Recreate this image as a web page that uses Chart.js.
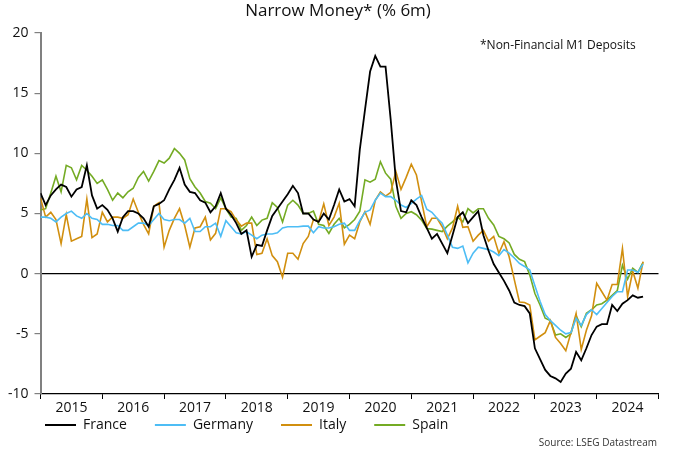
<!DOCTYPE html>
<html lang="en">
<head>
  <meta charset="UTF-8" />
  <title>Narrow Money* (% 6m)</title>
  <style>
    body { margin: 0; background: #fff; }
    #wrap { width: 680px; height: 453px; }
  </style>
</head>
<body>
  <div id="wrap"><canvas id="chart" width="680" height="453"></canvas></div>

  <script src="https://cdn.jsdelivr.net/npm/chart.js"></script>
  <script>
    // year labels on the x axis
    const years = ['2015', '2016', '2017', '2018', '2019', '2020', '2021', '2022', '2023', '2024'];

    // monthly observations, Jan 2015 - Oct 2024
    const months = [];
    for (let y = 2015; y <= 2024; y++) {
      for (let m = 1; m <= 12; m++) {
        if (months.length < 118) months.push(y + '-' + String(m).padStart(2, '0'));
      }
    }

    const france = [
      6.7, 5.7, 6.5, 7.0, 7.4, 7.2, 6.4, 7.0, 7.2, 9.0, 6.5, 5.4,
      5.7, 5.3, 4.6, 3.5, 4.7, 5.2, 5.2, 5.0, 4.6, 3.9, 5.6, 5.8,
      6.1, 7.0, 7.8, 8.8, 7.4, 6.8, 6.7, 6.1, 5.9, 5.1, 5.6, 6.7,
      5.4, 4.9, 4.2, 3.3, 3.6, 1.4, 2.4, 2.3, 3.6, 4.8, 5.4, 6.0,
      6.6, 7.3, 6.7, 5.0, 5.0, 4.5, 4.3, 5.0, 4.5, 5.7, 7.0, 6.0,
      6.2, 5.6, 10.3, 13.6, 16.8, 18.1, 17.2, 17.2, 12.8, 7.8, 5.2, 5.1,
      6.1, 5.7, 4.7, 3.8, 2.9, 3.3, 2.5, 1.7, 3.2, 4.7, 5.1, 4.2,
      4.7, 5.2, 3.2, 1.9, 0.8, 0.1, -0.6, -1.4, -2.4, -2.6, -2.7, -3.3,
      -6.2, -7.1, -8.0, -8.5, -8.7, -9.0, -8.3, -7.9, -6.5, -7.2, -6.2, -5.1,
      -4.4, -4.2, -4.2, -2.6, -3.1, -2.5, -2.2, -1.8, -2.0, -1.9
    ];

    const germany = [
      4.7, 4.7, 4.6, 4.3, 4.7, 5.0, 5.2, 4.8, 4.6, 5.0, 4.6, 4.5,
      4.1, 4.1, 4.0, 4.0, 3.6, 3.6, 3.9, 4.2, 4.2, 4.0, 4.5, 5.0,
      4.5, 4.4, 4.5, 4.5, 4.2, 4.6, 3.5, 3.5, 3.9, 3.9, 4.2, 3.1,
      4.4, 3.9, 3.4, 3.3, 3.5, 3.2, 2.9, 3.2, 3.3, 3.3, 3.4, 3.8,
      3.9, 3.9, 3.9, 3.95, 3.95, 3.4, 3.9, 3.8, 3.8, 3.9, 4.1, 4.2,
      3.6, 3.6, 4.4, 5.1, 5.3, 6.1, 6.7, 6.4, 6.4, 6.1, 5.7, 5.5,
      5.85, 6.2, 6.5, 5.35, 5.1, 4.6, 4.2, 3.2, 2.2, 2.1, 2.3, 0.9,
      1.7, 2.2, 2.1, 2.0, 1.8, 1.5, 2.0, 1.7, 1.3, 0.85, 0.6, 0.3,
      -1.0, -2.3, -3.4, -3.9, -4.3, -4.7, -5.0, -4.9, -3.7, -4.3, -3.4, -3.0,
      -3.4, -2.9, -2.4, -1.9, -1.5, -1.5, 0.3, 0.3, 0.1, 0.8
    ];

    const italy = [
      6.3, 4.7, 5.1, 4.5, 2.5, 4.9, 2.7, 2.9, 3.1, 6.2, 3.0, 3.3,
      5.1, 4.3, 4.7, 4.7, 4.6, 4.9, 6.2, 5.1, 4.1, 3.3, 5.6, 5.9,
      2.2, 3.6, 4.6, 5.4, 4.0, 2.2, 3.8, 3.9, 4.7, 2.8, 3.35, 5.4,
      5.4, 5.15, 4.45, 3.95, 4.2, 4.2, 1.6, 1.7, 2.9, 1.5, 1.0, -0.3,
      1.7, 1.7, 1.2, 2.5, 3.1, 4.5, 4.3, 5.8, 4.0, 4.7, 5.85, 2.45,
      3.2, 2.9, 4.3, 5.15, 4.1, 6.1, 6.8, 6.45, 6.75, 8.5, 7.0, 8.0,
      9.1, 8.2, 6.0, 3.9, 4.6, 4.6, 3.9, 2.9, 3.8, 5.6, 3.85, 3.9,
      2.7, 3.2, 3.6, 2.7, 3.1, 1.7, 2.65, 1.4, -0.5, -2.35, -2.4, -2.6,
      -5.5, -5.2, -4.9, -3.9, -5.3, -5.8, -6.4, -4.9, -3.3, -6.3, -4.7, -3.5,
      -0.8, -1.5, -2.2, -0.9, -0.9, 2.1, -1.9, 0.2, -1.2, 1.0
    ];

    const spain = [
      5.3, 5.4, 6.7, 8.1, 6.8, 9.0, 8.8, 7.8, 9.0, 8.6, 8.1, 7.5,
      7.8, 7.0, 6.1, 6.7, 6.3, 6.8, 7.1, 8.0, 8.5, 7.7, 8.5, 9.4,
      9.2, 9.6, 10.4, 10.0, 9.45, 7.9, 7.2, 6.7, 6.0, 5.85, 5.4, 6.3,
      5.4, 4.7, 4.6, 3.6, 4.0, 4.7, 4.0, 4.45, 4.6, 5.9, 5.5, 4.3,
      5.7, 6.1, 5.7, 5.0, 5.0, 5.2, 4.1, 4.0, 3.35, 4.1, 4.6, 3.8,
      4.1, 4.5, 5.2, 7.8, 7.6, 7.85, 9.3, 8.35, 7.85, 5.6, 4.6, 5.0,
      5.15, 4.9, 4.45, 3.75, 3.7, 3.6, 3.5, 3.95, 4.3, 4.7, 4.3, 5.4,
      5.05, 5.4, 5.4, 4.6, 4.05, 3.1, 2.9, 2.55, 1.6, 1.2, 1.0, -0.1,
      -1.65, -2.6, -3.7, -3.9, -5.1, -5.0, -5.3, -5.0, -3.5, -4.4, -3.3, -3.0,
      -2.6, -2.5, -2.2, -1.8, -1.4, 0.7, -0.45, 0.45, 0.1, 0.95
    ];

    const FONT = '"Open Sans", sans-serif';
    const pts = arr => arr.map((v, i) => ({ x: i, y: v }));

    const line = (label, data, color, width) => ({
      label: label,
      data: pts(data),
      borderColor: color,
      backgroundColor: color,
      borderWidth: width,
      pointRadius: 0,
      tension: 0
    });

    // title, note, legend and source drawn round the plot
    const decor = {
      id: 'decor',
      afterDraw(chart) {
        const c = chart.ctx;
        c.save();
        c.fillStyle = '#111';
        c.textBaseline = 'middle';

        c.font = '17px ' + FONT;
        c.textAlign = 'center';
        c.fillText('Narrow Money* (% 6m)', 338, 11);

        c.font = '12px ' + FONT;
        c.textAlign = 'left';
        c.fillText('*Non-Financial M1 Deposits', 480, 46);

        c.font = '14px ' + FONT;
        let x = 45;
        chart.data.datasets.forEach(ds => {
          c.strokeStyle = ds.borderColor;
          c.lineWidth = 2;
          c.beginPath();
          c.moveTo(x, 425);
          c.lineTo(x + 31, 425);
          c.stroke();
          c.fillStyle = '#111';
          c.fillText(ds.label, x + 38, 425);
          x += 38 + c.measureText(ds.label).width + 28;
        });

        c.font = '10px ' + FONT;
        c.textAlign = 'right';
        c.fillStyle = '#333';
        c.fillText('Source: LSEG Datastream', 657, 443);
        c.restore();
      }
    };

    new Chart(document.getElementById('chart'), {
      type: 'line',
      data: {
        labels: months,
        datasets: [
          line('France', france, '#000000', 1.8),
          line('Germany', germany, '#4dbdf5', 1.6),
          line('Italy', italy, '#d18f0f', 1.6),
          line('Spain', spain, '#74ab24', 1.6)
        ]
      },
      options: {
        responsive: false,
        animation: false,
        devicePixelRatio: 1,
        layout: { padding: { top: 33, right: 21.5, bottom: 39, left: 0 } },
        plugins: {
          legend: { display: false },
          title: { display: false },
          tooltip: { enabled: false }
        },
        scales: {
          x: {
            type: 'linear',
            min: 0,
            max: 120,
            afterFit: s => { s.height = 20; },
            border: { color: '#000', width: 1.2 },
            grid: {
              drawOnChartArea: false,
              tickLength: 5,
              tickColor: ctx => (ctx.tick && ctx.tick.value % 12 === 0) ? '#000' : 'rgba(0,0,0,0)'
            },
            ticks: {
              stepSize: 6,
              autoSkip: false,
              maxRotation: 0,
              padding: 1,
              color: '#111',
              font: { family: FONT, size: 14 },
              callback: v => (v % 12 === 6) ? years[(v - 6) / 12] : ''
            }
          },
          y: {
            min: -10,
            max: 20,
            afterFit: s => { s.width = 40.5; },
            border: { color: '#808080', width: 2 },
            grid: {
              drawTicks: true,
              tickLength: 6,
              tickColor: '#808080',
              color: ctx => (ctx.tick && ctx.tick.value === 0) ? '#000' : 'rgba(0,0,0,0)',
              lineWidth: 1.2
            },
            ticks: {
              stepSize: 5,
              padding: 6,
              color: '#111',
              font: { family: FONT, size: 14 }
            }
          }
        }
      },
      plugins: [decor]
    });
  </script>
</body>
</html>
